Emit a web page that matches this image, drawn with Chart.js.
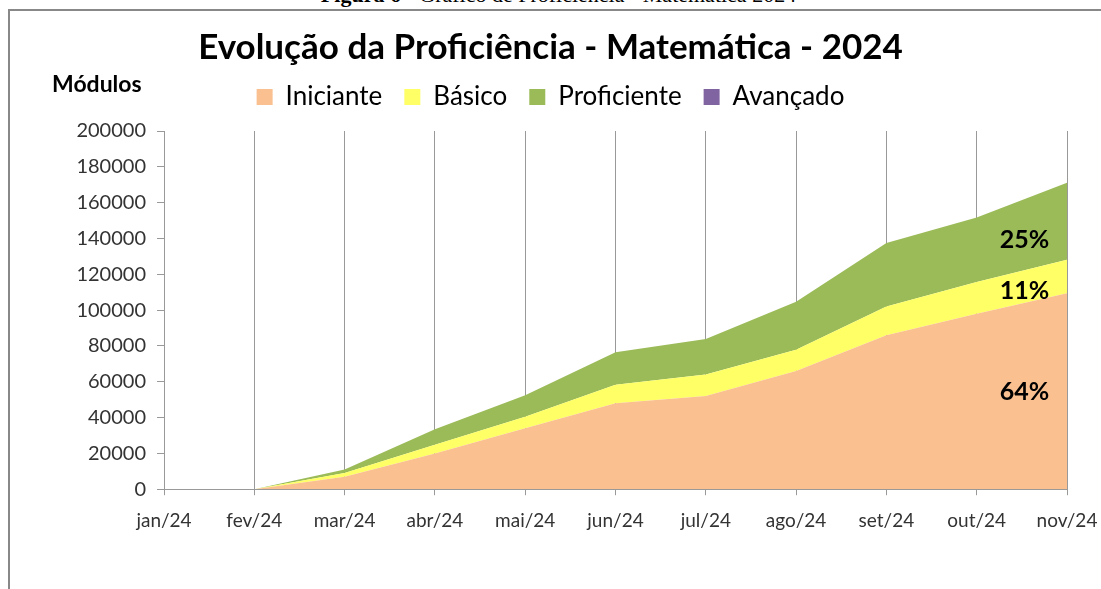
<!DOCTYPE html>
<html>
<head>
<meta charset="utf-8">
<script src="https://cdn.jsdelivr.net/npm/chart.js"></script>
<style>
  html, body { margin:0; padding:0; background:#fff; }
  #wrap { position:relative; width:1101px; height:589px; overflow:hidden; }
  #legenda { position:absolute; top:-18px; left:8px; width:1101px; text-align:center;
             font:22px "Liberation Serif", serif; color:#000; white-space:nowrap; }
  #moldura { position:absolute; left:8px; top:9px; right:-10px; bottom:-10px;
             border-left:2px solid #888; border-top:2px solid #888; }
  canvas { position:absolute; left:0; top:0; }
</style>
</head>
<body>
<div id="wrap">
  <div id="legenda"><b>Figura 6</b> - Gráfico de Proficiência - Matemática 2024</div>
  <div id="moldura"></div>
  <canvas id="grafico" width="1101" height="589"></canvas>
</div>
<script>
// dados (módulos acumulados por nível)
const meses = ["jan/24","fev/24","mar/24","abr/24","mai/24","jun/24","jul/24","ago/24","set/24","out/24","nov/24"];
const iniciante   = [0, 0, 7000, 20000, 34000, 48000, 52000, 66000, 86000, 98000, 109400];
const basico      = [0, 0, 2000,  4800,  6500, 10300, 12000, 11800, 16000, 17700, 18700];
const proficiente = [0, 0, 2000,  8700, 12000, 18200, 19800, 26800, 35400, 36000, 43000];
const avancado    = [0, 0, 0, 0, 0, 0, 0, 0, 0, 0, 0];

const fonte = "Lato, 'Open Sans', sans-serif";

// espaço extra abaixo da legenda
const espacoLegenda = {
  id: "espacoLegenda",
  beforeInit(chart) {
    const fitOrig = chart.legend.fit;
    chart.legend.fit = function () {
      fitOrig.call(this);
      this.height += 11;
    };
  }
};

// rótulo "Módulos" e percentuais do último mês
const anotacoes = {
  id: "anotacoes",
  afterDatasetsDraw(chart) {
    const ctx = chart.ctx;
    const x = chart.scales.x, y = chart.scales.y;
    ctx.save();
    ctx.fillStyle = "#000";
    ctx.font = "bold 23px " + fonte;
    ctx.textAlign = "left";
    ctx.textBaseline = "middle";
    ctx.fillText("Módulos", 52, 85);

    const n = meses.length - 1;
    const series = [iniciante, basico, proficiente];
    const frac = [0.52, 0.36, 0.42]; // altura do rótulo dentro de cada faixa
    const total = iniciante[n] + basico[n] + proficiente[n] + avancado[n];
    const t = 0.53; // posição entre out/24 e nov/24
    const px = x.getPixelForValue(n - 1) + t * (x.getPixelForValue(n) - x.getPixelForValue(n - 1));
    ctx.font = "bold 25px " + fonte;
    ctx.textAlign = "center";
    let base0 = 0, base1 = 0;
    series.forEach((s, i) => {
      const a = base0 + s[n - 1] * frac[i], b = base1 + s[n] * frac[i];
      const v = a + t * (b - a);
      const pct = Math.round(s[n] / total * 100) + "%";
      ctx.fillText(pct, px, y.getPixelForValue(v));
      base0 += s[n - 1];
      base1 += s[n];
    });
    ctx.restore();
  }
};

const serie = (label, data, cor, fill) => ({
  label, data, fill,
  backgroundColor: cor, borderColor: cor, borderWidth: 0,
  pointRadius: 0, pointHoverRadius: 0, tension: 0
});

new Chart(document.getElementById("grafico"), {
  type: "line",
  data: {
    labels: meses,
    datasets: [
      serie("Iniciante", iniciante, "#FAC090", "origin"),
      serie("Básico", basico, "#FFFF66", "-1"),
      serie("Proficiente", proficiente, "#9BBB59", "-1"),
      serie("Avançado", avancado, "#8064A2", "-1")
    ]
  },
  options: {
    responsive: false,
    animation: false,
    layout: { padding: { left: 0, right: 0, top: 0, bottom: 43 } },
    plugins: {
      tooltip: { enabled: false },
      title: {
        display: true,
        text: "Evolução da Proficiência - Matemática - 2024",
        color: "#000",
        font: { family: fonte, size: 35, weight: "bold" },
        padding: { top: 27, bottom: -7 }
      },
      legend: {
        display: true,
        labels: {
          color: "#000",
          font: { family: fonte, size: 26 },
          boxWidth: 16, boxHeight: 16,
          padding: 22
        }
      }
    },
    scales: {
      x: {
        offset: false,
        afterFit(scale) { scale.paddingRight = 34; },
        grid: { display: true, color: "#999", lineWidth: 1, drawTicks: true, tickLength: 6 },
        border: { display: true, color: "#999" },
        ticks: { color: "#333", font: { family: fonte, size: 19 }, padding: 14, maxRotation: 0, autoSkip: false }
      },
      y: {
        stacked: true,
        min: 0, max: 200000,
        afterFit(scale) { scale.width = 164; },
        grid: { display: true, drawOnChartArea: false, drawTicks: true, tickLength: 7, color: "#999" },
        border: { display: true, color: "#999" },
        ticks: { stepSize: 20000, color: "#333", font: { family: fonte, size: 20 }, padding: 11,
                 callback: v => String(v) }
      }
    }
  },
  plugins: [espacoLegenda, anotacoes]
});
</script>
</body>
</html>
